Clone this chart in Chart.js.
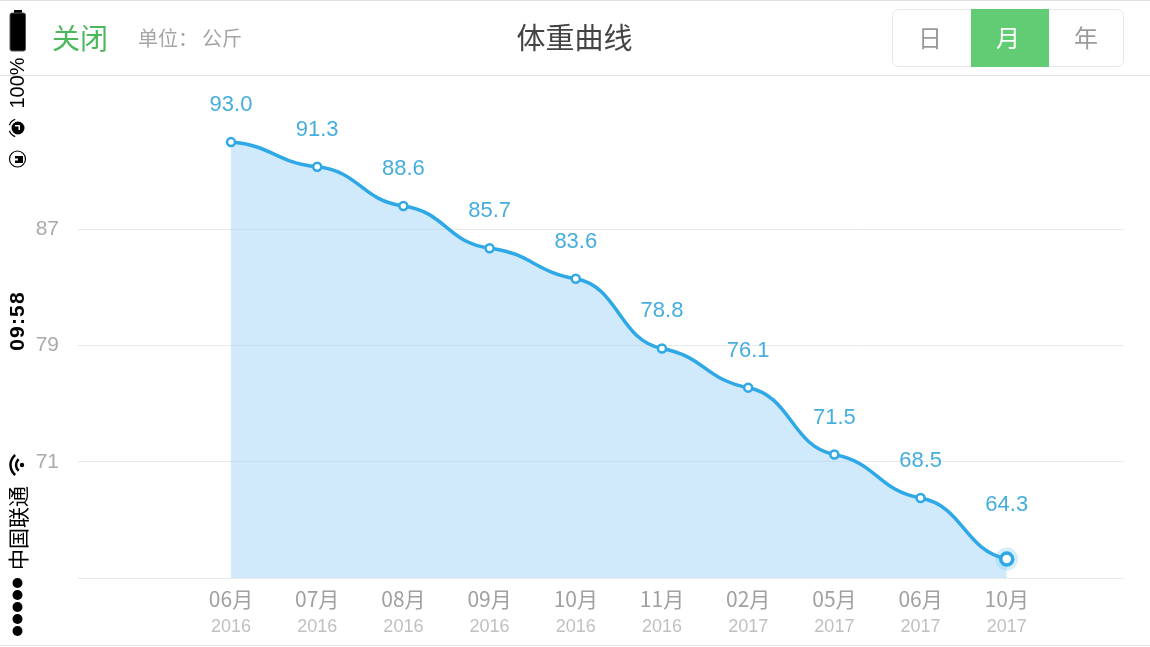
<!DOCTYPE html>
<html>
<head>
<meta charset="utf-8">
<script src="https://cdn.jsdelivr.net/npm/chart.js@4"></script>
<style>
  html, body { margin: 0; padding: 0; background: #fff; }
  #wrap { width: 1150px; height: 647px; }
  canvas { display: block; }
</style>
</head>
<body>
<div id="wrap"><canvas id="weightChart" width="1150" height="647"></canvas></div>
<script>
const months = ['06月', '07月', '08月', '09月', '10月', '11月', '02月', '05月', '06月', '10月'];
const years = ['2016', '2016', '2016', '2016', '2016', '2016', '2017', '2017', '2017', '2017'];
const weights = [93.0, 91.3, 88.6, 85.7, 83.6, 78.8, 76.1, 71.5, 68.5, 64.3];
const yTicks = [63, 71, 79, 87];
const rangeTabs = ['日', '月', '年'];

const FONT = '"Noto Sans CJK SC", sans-serif';
const LATIN = '"Liberation Sans", "Noto Sans CJK SC", sans-serif';
const BLUE = '#2ea8e6';

const indexes = months.map((_, i) => i);
const lastIndex = weights.length - 1;

const text = (ctx, str, x, y, font, color, align = 'center') => {
  ctx.font = font;
  ctx.fillStyle = color;
  ctx.textAlign = align;
  ctx.textBaseline = 'middle';
  ctx.fillText(str, x, y);
};

// the app draws flat S-curves between points, so replace the bezier handles
const flatCurvePlugin = {
  id: 'flatCurve',
  afterDatasetsUpdate: (chart) => {
    const line = chart.getDatasetMeta(0).dataset;
    line.updateControlPoints(chart.chartArea, 'x');
    const pts = line.points;
    const handle = 0.5;
    pts.forEach((pt, i) => {
      const next = pts[i + 1] || pt;
      const prev = pts[i - 1] || pt;
      const tangent = 0.3 * (next.y - prev.y) / (next.x - prev.x);
      const dxNext = next.x - pt.x;
      const dxPrev = pt.x - prev.x;
      pt.cp2x = pt.x + dxNext * handle;
      pt.cp2y = pt.y + dxNext * handle * tangent;
      pt.cp1x = pt.x - dxPrev * handle;
      pt.cp1y = pt.y - dxPrev * handle * tangent;
    });
  },
};

const valueLabelPlugin = {
  id: 'valueLabels',
  afterDatasetsDraw: (chart) => {
    const { ctx, scales } = chart;
    weights.forEach((w, i) => {
      const x = scales.x.getPixelForValue(i);
      const y = scales.y.getPixelForValue(w);
      const up = i === lastIndex ? 54 : 37;
      text(ctx, w.toFixed(1), x, y - up, `22px ${LATIN}`, '#45aede');
    });
  },
};

const drawStatusBar = (ctx) => {
  ctx.fillStyle = '#000';
  ctx.strokeStyle = '#555';
  ctx.lineWidth = 1;
  // battery
  ctx.fillRect(14, 10, 8, 3);
  ctx.beginPath();
  ctx.roundRect(10, 13, 15.5, 38, 2);
  ctx.fill();
  ctx.stroke();
  // alarm
  ctx.beginPath();
  ctx.arc(18, 128, 6.5, 0, Math.PI * 2);
  ctx.fill();
  ctx.fillStyle = '#fff';
  ctx.fillRect(15, 125, 5, 1.5);
  ctx.fillRect(18.5, 125, 1.5, 5);
  ctx.strokeStyle = '#000';
  ctx.lineWidth = 1.2;
  ctx.beginPath();
  ctx.arc(18, 128, 9, Math.PI * 0.6, Math.PI * 0.9);
  ctx.stroke();
  ctx.beginPath();
  ctx.arc(18, 128, 9, Math.PI * 1.1, Math.PI * 1.4);
  ctx.stroke();
  // rotation lock
  ctx.beginPath();
  ctx.arc(17.5, 159, 8, 0, Math.PI * 2);
  ctx.stroke();
  ctx.fillStyle = '#000';
  ctx.fillRect(15, 156, 8, 7);
  ctx.fillStyle = '#fff';
  ctx.fillRect(15, 158.5, 3, 2);
  ctx.fillStyle = '#000';
  // wifi
  ctx.lineWidth = 2.5;
  [7.5, 13].forEach((r) => {
    ctx.beginPath();
    ctx.arc(23.5, 465, r, Math.PI * 0.72, Math.PI * 1.28);
    ctx.stroke();
  });
  ctx.beginPath();
  ctx.arc(22, 465, 2.2, 0, Math.PI * 2);
  ctx.fill();
  // signal dots
  [583, 595, 607, 619, 631].forEach((y) => {
    ctx.beginPath();
    ctx.arc(17.5, y, 5, 0, Math.PI * 2);
    ctx.fill();
  });
  const rotated = (str, y, font, spacing = '0px') => {
    ctx.save();
    ctx.translate(18.5, y);
    ctx.rotate(-Math.PI / 2);
    ctx.letterSpacing = spacing;
    text(ctx, str, 0, 0, font, '#000');
    ctx.restore();
  };
  rotated('100%', 83, `20px ${LATIN}`);
  rotated('09:58', 321, `bold 21px ${LATIN}`, '1.2px');
  rotated('中国联通', 528, `21px ${FONT}`);
};

const drawHeader = (ctx) => {
  ctx.fillStyle = '#e2e2e2';
  ctx.fillRect(0, 0, 1150, 1);
  ctx.fillRect(0, 75, 1150, 1);
  ctx.fillRect(0, 645, 1150, 1);
  text(ctx, '关闭', 80, 38, `28px ${FONT}`, '#4cb85c');
  text(ctx, '单位：', 138, 38, `20px ${FONT}`, '#a5a5a5', 'left');
  text(ctx, '公斤', 202, 38, `20px ${FONT}`, '#a5a5a5', 'left');
  text(ctx, '体重曲线', 574.5, 38, `29px ${FONT}`, '#444');
  // range switch
  ctx.strokeStyle = '#e8e8e8';
  ctx.lineWidth = 1;
  ctx.beginPath();
  ctx.roundRect(892.5, 9.5, 231, 57, 6);
  ctx.stroke();
  ctx.fillStyle = '#62cc74';
  ctx.fillRect(971, 9, 78, 58);
  rangeTabs.forEach((tab, i) => {
    text(ctx, tab, 930 + i * 78, 38, `24px ${FONT}`, i === 1 ? '#fff' : '#9a9a9a');
  });
};

const chromePlugin = {
  id: 'chrome',
  beforeDraw: (chart) => {
    const { ctx } = chart;
    ctx.save();
    ctx.fillStyle = '#fff';
    ctx.fillRect(0, 0, chart.width, chart.height);
    ctx.restore();
  },
  afterDraw: (chart) => {
    const { ctx } = chart;
    ctx.save();
    drawHeader(ctx);
    drawStatusBar(ctx);
    ctx.restore();
  },
};

const pointTicks = (scale) => {
  scale.ticks = indexes.map((value) => ({ value }));
};

new Chart(document.getElementById('weightChart').getContext('2d'), {
  type: 'line',
  data: {
    datasets: [
      {
        data: weights.map((y, x) => ({ x, y })),
        borderColor: BLUE,
        borderWidth: 3.5,
        backgroundColor: 'rgba(162,212,247,0.5)',
        fill: 'start',
        tension: 0.4,
        pointRadius: (c) => (c.dataIndex === lastIndex ? 6 : 4),
        pointBorderWidth: (c) => (c.dataIndex === lastIndex ? 3.5 : 2.5),
        pointBackgroundColor: '#fff',
        pointBorderColor: BLUE,
        order: 1,
      },
      {
        // halo behind the latest reading
        data: [{ x: lastIndex, y: weights[lastIndex] }],
        pointRadius: 11.5,
        pointBorderWidth: 0,
        pointBackgroundColor: 'rgba(46,168,230,0.2)',
        showLine: false,
        order: 2,
      },
    ],
  },
  options: {
    responsive: false,
    animation: false,
    events: [],
    layout: { padding: { left: 0, right: 26, top: 76, bottom: 0 } },
    plugins: { legend: { display: false }, tooltip: { enabled: false } },
    scales: {
      x: {
        type: 'linear',
        min: -1.775,
        max: 10.36,
        position: 'bottom',
        afterBuildTicks: pointTicks,
        afterFit: (scale) => { scale.height = 36; },
        grid: { display: false, drawTicks: false },
        border: { display: false },
        ticks: {
          autoSkip: false,
          maxRotation: 0,
          padding: 8,
          color: '#a0a0a0',
          font: { family: FONT, size: 21 },
          callback: (value) => months[value],
        },
      },
      x2: {
        type: 'linear',
        axis: 'x',
        min: -1.775,
        max: 10.36,
        position: 'bottom',
        afterBuildTicks: pointTicks,
        afterFit: (scale) => { scale.height = 33; },
        grid: { display: false, drawTicks: false },
        border: { display: false },
        ticks: {
          autoSkip: false,
          maxRotation: 0,
          padding: 2,
          color: '#c0c0c0',
          font: { family: LATIN, size: 18 },
          callback: (value) => years[value],
        },
      },
      y: {
        min: 63,
        max: 97.55,
        afterBuildTicks: (scale) => {
          scale.ticks = yTicks.map((value) => ({ value }));
        },
        afterFit: (scale) => { scale.width = 78; },
        grid: { color: '#e9e9e9', drawTicks: false },
        border: { display: false },
        ticks: {
          padding: 19,
          color: '#aaaaaa',
          font: { family: LATIN, size: 21 },
          callback: (value) => (value === 63 ? '' : value),
        },
      },
    },
  },
  plugins: [flatCurvePlugin, valueLabelPlugin, chromePlugin],
});
</script>
</body>
</html>
